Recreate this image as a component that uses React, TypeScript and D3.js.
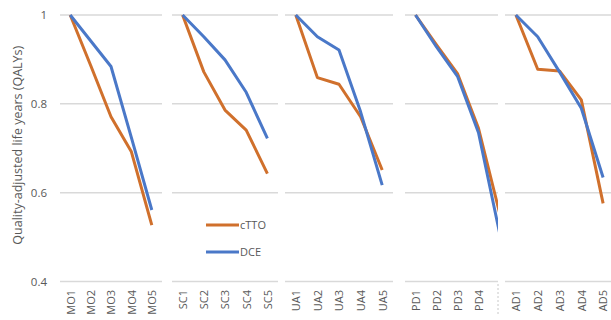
import React, { useEffect, useRef } from 'react';
import * as d3 from 'd3';

// attribute groups (one panel each)
const groups = ['MO', 'SC', 'UA', 'PD', 'AD'];
const categories = [
  ['MO1', 'MO2', 'MO3', 'MO4', 'MO5'],
  ['SC1', 'SC2', 'SC3', 'SC4', 'SC5'],
  ['UA1', 'UA2', 'UA3', 'UA4', 'UA5'],
  ['PD1', 'PD2', 'PD3', 'PD4', 'PD5'],
  ['AD1', 'AD2', 'AD3', 'AD4', 'AD5'],
];
const cttoValues = [
  [1, 0.887, 0.771, 0.692, 0.527],
  [1, 0.872, 0.786, 0.741, 0.643],
  [1, 0.859, 0.844, 0.771, 0.651],
  [1, 0.933, 0.868, 0.745, 0.555],
  [1, 0.878, 0.874, 0.809, 0.576],
];
const dceValues = [
  [1, 0.942, 0.884, 0.724, 0.561],
  [1, 0.951, 0.899, 0.826, 0.722],
  [1, 0.951, 0.921, 0.782, 0.617],
  [1, 0.928, 0.862, 0.735, 0.51],
  [1, 0.951, 0.872, 0.79, 0.634],
];
const seriesNames = ['cTTO', 'DCE'];
const yTicks = [0.4, 0.6, 0.8, 1];
const yTitle = 'Quality-adjusted life years (QALYs)';

const W = 611;
const H = 320;
const ORANGE = '#d0702c';
const BLUE = '#4a78c8';
const TEXT = '#595959';
const GRID = '#d9d9d9';
const FONT = '"Open Sans", "Noto Sans", sans-serif';

// panel extents in px (the PD panel is cut off at its right side)
const panels = [
  { x0: 60, x1: 162, clip: 162 },
  { x0: 172, x1: 278, clip: 278 },
  { x0: 285, x1: 393, clip: 393 },
  { x0: 405, x1: 510, clip: 498 },
  { x0: 505, x1: 614, clip: 614 },
];

const App = () => {
  const svgRef = useRef<SVGSVGElement>(null);

  useEffect(() => {
    const svg = d3.select(svgRef.current);
    svg.selectAll('*').remove();

    const y = d3.scaleLinear().domain([0.4, 1]).range([281.5, 15]);

    // y tick labels
    svg.append('g')
      .selectAll('text')
      .data(yTicks)
      .join('text')
      .attr('x', 47)
      .attr('y', d => y(d))
      .attr('dy', '0.35em')
      .attr('text-anchor', 'end')
      .attr('font-size', 11.5)
      .attr('fill', TEXT)
      .text(d => d3.format('')(d));

    // y axis title
    svg.append('text')
      .attr('transform', `translate(22, ${(15 + 281.5) / 2 - 3}) rotate(-90)`)
      .attr('text-anchor', 'middle')
      .attr('font-size', 12.5)
      .attr('fill', TEXT)
      .text(yTitle);

    const defs = svg.append('defs');

    groups.forEach((g, i) => {
      const p = panels[i];
      const x = d3.scalePoint<string>()
        .domain(categories[i])
        .range([p.x0, p.x1])
        .padding(0.5);

      defs.append('clipPath')
        .attr('id', `clip-${g}`)
        .append('rect')
        .attr('x', p.x0 - 5)
        .attr('y', 0)
        .attr('width', p.clip - p.x0 + 5)
        .attr('height', H);

      const panel = svg.append('g').attr('clip-path', `url(#clip-${g})`);

      // grid lines
      panel.append('g')
        .selectAll('line')
        .data(yTicks)
        .join('line')
        .attr('x1', p.x0)
        .attr('x2', p.x1)
        .attr('y1', d => y(d))
        .attr('y2', d => y(d))
        .attr('stroke', GRID)
        .attr('stroke-width', 1.5);

      // category labels (those past the cut edge are not shown)
      svg.append('g')
        .selectAll('text')
        .data(categories[i].filter(c => x(c)! < p.clip - 6))
        .join('text')
        .attr('transform', d => `translate(${x(d)! + 0.5}, 290) rotate(-90)`)
        .attr('dy', '0.35em')
        .attr('text-anchor', 'end')
        .attr('font-size', 11)
        .attr('fill', TEXT)
        .text(d => d);

      const line = d3.line<number>()
        .x((_, j) => x(categories[i][j])!)
        .y(d => y(d));

      [cttoValues[i], dceValues[i]].forEach((vals, k) => {
        panel.append('path')
          .datum(vals)
          .attr('fill', 'none')
          .attr('stroke', k === 0 ? ORANGE : BLUE)
          .attr('stroke-width', 3)
          .attr('stroke-linejoin', 'round')
          .attr('d', line);
      });

      if (p.clip < p.x1) {
        svg.append('line')
          .attr('x1', p.clip)
          .attr('x2', p.clip)
          .attr('y1', 284)
          .attr('y2', 316)
          .attr('stroke', '#c8c8c8')
          .attr('stroke-dasharray', '2,2');
      }
    });

    // legend
    const legend = svg.append('g').attr('transform', 'translate(206, 225)');
    seriesNames.forEach((name, k) => {
      const row = legend.append('g').attr('transform', `translate(0, ${k * 27})`);
      row.append('line')
        .attr('x1', 0)
        .attr('x2', 33)
        .attr('stroke', k === 0 ? ORANGE : BLUE)
        .attr('stroke-width', 3);
      row.append('text')
        .attr('x', 34)
        .attr('dy', '0.35em')
        .attr('font-size', 11)
        .attr('fill', TEXT)
        .text(name);
    });
  }, []);

  return (
    <svg
      ref={svgRef}
      width={W}
      height={H}
      style={{ position: 'absolute', left: 0, top: 0, background: '#fff', fontFamily: FONT }}
    />
  );
};

export default App;
